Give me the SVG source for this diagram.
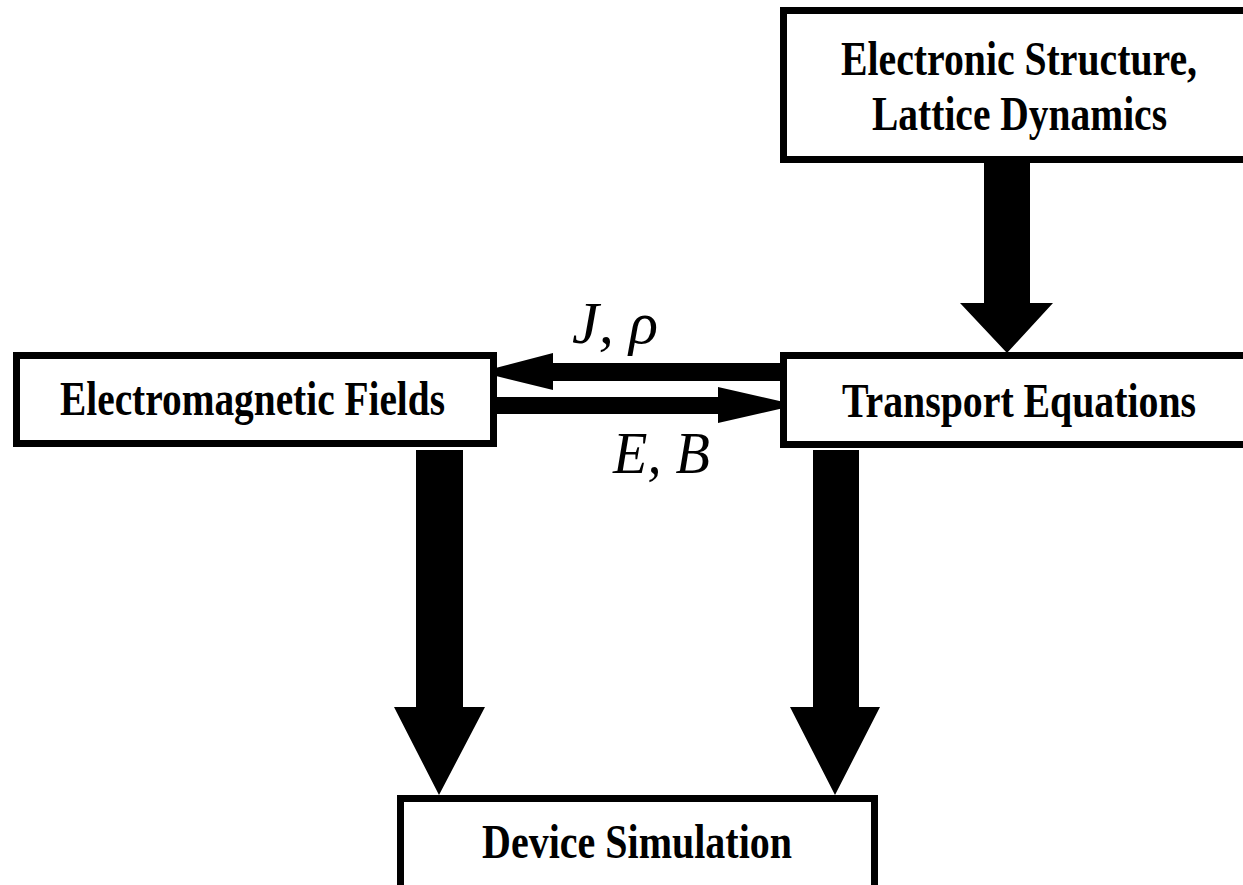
<svg xmlns="http://www.w3.org/2000/svg" width="1243" height="885" viewBox="0 0 1243 885">
<style>
.box{fill:#fff;stroke:#000;stroke-width:7}
.fill{fill:#fff}
.edge{fill:none;stroke:#000;stroke-width:7}
.lbl{font-family:"Liberation Serif","Times New Roman",serif;font-weight:bold;font-size:48px;fill:#000}
.math{font-family:"Liberation Serif","Times New Roman",serif;font-style:italic;font-size:60px;fill:#000}
.arr{fill:#000}
</style>
<rect width="1243" height="885" fill="#fff"/>
<g id="connectors">
<polygon class="arr" points="984,160 1030,160 1030,303 1053,303 1007,353 960,303 984,303"/>
<polygon class="arr" points="416,450 463,450 463,707 485,707 439,795 394,707 416,707"/>
<polygon class="arr" points="813,450 859,450 859,707 880,707 835,795 790,707 813,707"/>
<polygon class="arr" points="780,363 780,381 553,381 553,390 480,372 553,353 553,363"/>
<polygon class="arr" points="497,397 718,397 718,387 797,405 718,423 718,414 497,414"/>
</g>
<g id="electronic-structure">
<rect class="fill" x="783.5" y="10.5" width="459.5" height="149"/>
<path class="edge" d="M1243,10.5 H783.5 V159.5 H1243"/>
<text class="lbl" x="841" y="75" textLength="356" lengthAdjust="spacingAndGlyphs">Electronic Structure,</text>
<text class="lbl" x="872" y="130" textLength="295" lengthAdjust="spacingAndGlyphs">Lattice Dynamics</text>
</g>
<g id="transport-equations">
<rect class="fill" x="783.5" y="355.5" width="459.5" height="89"/>
<path class="edge" d="M1243,355.5 H783.5 V444.5 H1243"/>
<text class="lbl" x="842" y="417" textLength="354" lengthAdjust="spacingAndGlyphs">Transport Equations</text>
</g>
<g id="electromagnetic-fields">
<rect class="box" x="16.5" y="355.5" width="477" height="88"/>
<text class="lbl" x="60" y="415" textLength="385" lengthAdjust="spacingAndGlyphs">Electromagnetic Fields</text>
</g>
<g id="device-simulation">
<rect class="fill" x="400.5" y="798.5" width="474" height="86.5"/>
<path class="edge" d="M400.5,885 V798.5 H874.5 V885"/>
<text class="lbl" x="482" y="858" textLength="310" lengthAdjust="spacingAndGlyphs">Device Simulation</text>
</g>
<g id="labels">
<text class="math" x="572" y="343" textLength="86" lengthAdjust="spacingAndGlyphs">J, ρ</text>
<text class="math" x="613" y="473" textLength="97" lengthAdjust="spacingAndGlyphs">E, B</text>
</g>
</svg>
